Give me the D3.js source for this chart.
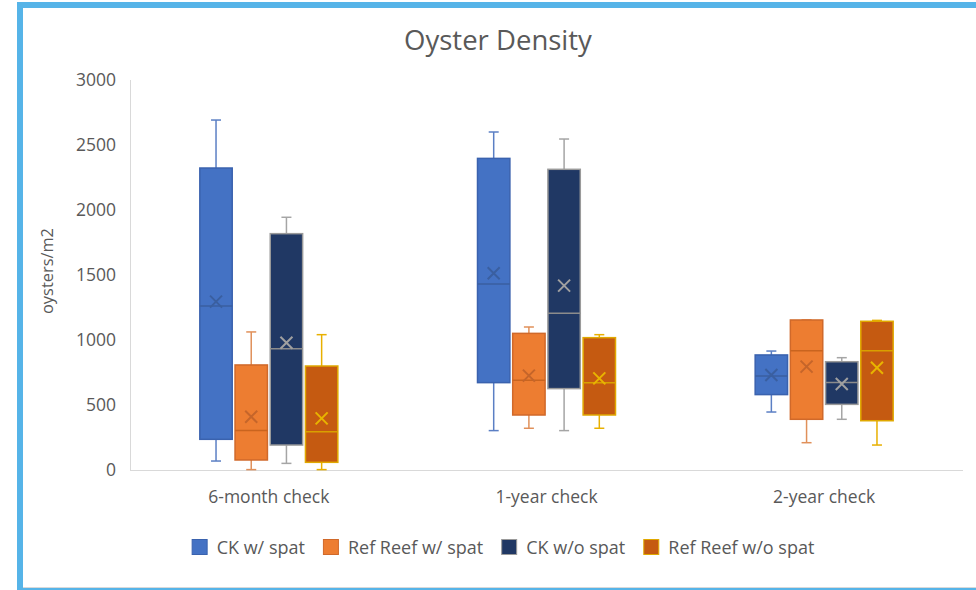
<!DOCTYPE html>
<html>
<head>
<meta charset="utf-8">
<script src="https://cdn.jsdelivr.net/npm/d3@7"></script>
<style>
  html, body { margin: 0; padding: 0; background: #fff; }
  svg { display: block; }
  text { font-family: "Open Sans", "Noto Sans", sans-serif; fill: #595959; }
</style>
</head>
<body>
<svg id="chart" width="976" height="590"></svg>
<script>
// ---- data ----
const categories = ["6-month check", "1-year check", "2-year check"];
const seriesNames = ["CK w/ spat", "Ref Reef w/ spat", "CK w/o spat", "Ref Reef w/o spat"];
const yTicks = [0, 500, 1000, 1500, 2000, 2500, 3000];
// each entry: [whiskerLow, q1, median, q3, whiskerHigh, mean]
const ckWithSpat      = [[69, 236, 1262, 2323, 2692, 1295], [303, 672, 1431, 2397, 2600, 1513], [446, 580, 723, 885, 915, 731]];
const refReefWithSpat = [[3, 77, 303, 808, 1062, 410],      [321, 423, 690, 1051, 1100, 726],   [210, 390, 918, 1154, 1154, 795]];
const ckWithoutSpat   = [[51, 192, 933, 1818, 1944, 979],   [303, 626, 1205, 2313, 2546, 1418], [390, 505, 674, 833, 864, 662]];
const refReefWithoutSpat = [[3, 59, 295, 800, 1041, 397],   [321, 423, 672, 1018, 1041, 705],   [192, 379, 918, 1144, 1151, 787]];
const seriesData = [ckWithSpat, refReefWithSpat, ckWithoutSpat, refReefWithoutSpat];

// ---- styles ----
const fills    = ["#4472C4", "#ED7D31", "#203864", "#C55A11"];
const outlines = ["#3A62AE", "#D0692A", "#9A9A9A", "#E0A800"];
const whiskerC = ["#5B7FC4", "#E0905A", "#A5A5A5", "#E8B000"];
const medianC  = ["#3A5FA0", "#C9641F", "#8C8C8C", "#D9A000"];
const markC    = ["#3A5FA0", "#C5652A", "#A0A0A0", "#E8B400"];

const svg = d3.select("#chart");

// frame
svg.append("rect").attr("x", 20).attr("y", 5).attr("width", 1000).attr("height", 586)
  .attr("fill", "#fff").attr("stroke", "#56B4E8").attr("stroke-width", 6);
svg.append("line").attr("x1", 23).attr("x2", 976).attr("y1", 587.5).attr("y2", 587.5)
  .attr("stroke", "#d9d9d9").attr("stroke-width", 1);

const plot = { left: 130, right: 963, top: 80, bottom: 470 };

const y = d3.scaleLinear().domain([0, 3000]).range([plot.bottom, plot.top]);
const x0 = d3.scaleBand().domain(categories).range([plot.left, plot.right]).padding(0);
const groupW = 138;
const x1 = d3.scaleBand().domain(seriesNames).range([0, groupW]).paddingInner(0.08);

// axes lines
svg.append("line").attr("x1", plot.left + 0.5).attr("x2", plot.left + 0.5)
  .attr("y1", plot.top).attr("y2", plot.bottom).attr("stroke", "#d9d9d9");
svg.append("line").attr("x1", plot.left).attr("x2", plot.right)
  .attr("y1", plot.bottom + 0.5).attr("y2", plot.bottom + 0.5).attr("stroke", "#d9d9d9");

// y axis tick labels
const yAxis = d3.axisLeft(y).tickValues(yTicks).tickSize(0).tickPadding(14).tickFormat(d3.format("d"));
const ya = svg.append("g").attr("transform", `translate(${plot.left},0)`).call(yAxis);
ya.select(".domain").remove();
ya.selectAll("text").style("font-size", "17.5px").attr("fill", "#595959")
  .style("font-family", "'Open Sans', 'Noto Sans', sans-serif");

// x axis labels
const xAxis = d3.axisBottom(x0).tickSize(0).tickPadding(21);
const xa = svg.append("g").attr("transform", `translate(0,${plot.bottom})`).call(xAxis);
xa.select(".domain").remove();
xa.selectAll("text").style("font-size", "17.5px").attr("fill", "#595959")
  .style("font-family", "'Open Sans', 'Noto Sans', sans-serif");

// title
svg.append("text").attr("x", 498).attr("y", 50).attr("text-anchor", "middle")
  .style("font-size", "27.5px").text("Oyster Density");

// y title
svg.append("text").attr("transform", "translate(53,271) rotate(-90)").attr("text-anchor", "middle")
  .style("font-size", "16.4px").text("oysters/m2");

// boxes
categories.forEach((cat, ci) => {
  const gx = x0(cat) + x0.bandwidth() / 2 - groupW / 2;
  seriesNames.forEach((s, si) => {
    const d = seriesData[si][ci];
    const [lo, q1, med, q3, hi, mean] = d;
    const bx = gx + x1(s);
    const bw = x1.bandwidth();
    const cx = bx + bw / 2;
    const g = svg.append("g");
    // whiskers
    g.append("line").attr("x1", cx).attr("x2", cx).attr("y1", y(hi)).attr("y2", y(q3))
      .attr("stroke", whiskerC[si]).attr("stroke-width", 1.5);
    g.append("line").attr("x1", cx).attr("x2", cx).attr("y1", y(q1)).attr("y2", y(lo))
      .attr("stroke", whiskerC[si]).attr("stroke-width", 1.5);
    g.append("line").attr("x1", cx - 5).attr("x2", cx + 5).attr("y1", y(hi)).attr("y2", y(hi))
      .attr("stroke", whiskerC[si]).attr("stroke-width", 1.5);
    g.append("line").attr("x1", cx - 5).attr("x2", cx + 5).attr("y1", y(lo)).attr("y2", y(lo))
      .attr("stroke", whiskerC[si]).attr("stroke-width", 1.5);
    // box
    g.append("rect").attr("x", bx).attr("y", y(q3)).attr("width", bw).attr("height", y(q1) - y(q3))
      .attr("fill", fills[si]).attr("stroke", outlines[si]).attr("stroke-width", 1.5);
    // median
    g.append("line").attr("x1", bx).attr("x2", bx + bw).attr("y1", y(med)).attr("y2", y(med))
      .attr("stroke", medianC[si]).attr("stroke-width", 1.5);
    // mean X
    const m = 6, my = y(mean);
    g.append("path").attr("d", `M${cx - m},${my - m}L${cx + m},${my + m}M${cx - m},${my + m}L${cx + m},${my - m}`)
      .attr("stroke", markC[si]).attr("stroke-width", 2).attr("fill", "none");
  });
});

// legend
const legend = svg.append("g");
let lx = 0;
seriesNames.forEach((s, si) => {
  const it = legend.append("g").attr("transform", `translate(${lx},0)`);
  it.append("rect").attr("x", 0.5).attr("y", -7.5).attr("width", 15).attr("height", 15)
    .attr("fill", fills[si]).attr("stroke", outlines[si]).attr("stroke-width", 1);
  const t = it.append("text").attr("x", 25).attr("y", 6.5).style("font-size", "18px").text(s);
  lx += 25 + t.node().getComputedTextLength() + 18;
});
const totalW = lx - 18;
legend.attr("transform", `translate(${503 - totalW / 2},547)`);
</script>
</body>
</html>
